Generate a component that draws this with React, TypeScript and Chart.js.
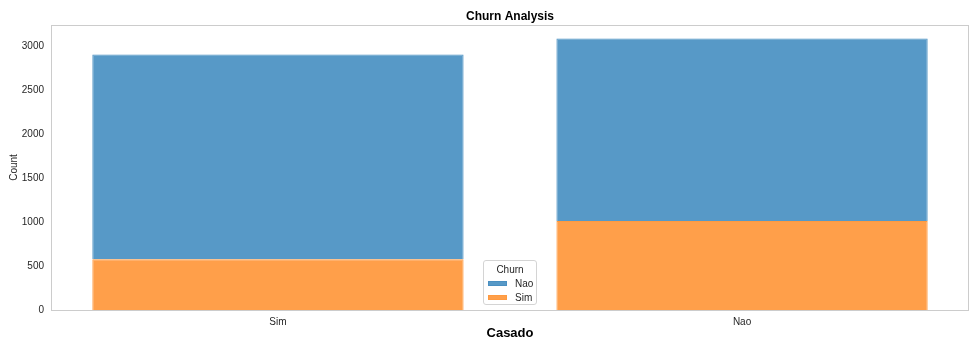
import React, { useEffect, useRef } from 'react';
import { Chart, registerables } from 'chart.js';

Chart.register(...registerables);

const categories = ['Sim', 'Nao'];
const churnSim = [578, 1012];
const churnNao = [2327, 2073];
const yTicks = [0, 500, 1000, 1500, 2000, 2500, 3000];
const legendTitle = 'Churn';
const legendLabels = ['Nao', 'Sim'];

const FONT = '"Liberation Sans", Arial, Helvetica, sans-serif';
const TEXT = '#262626';
const BLUE = '#5799c7';
const BLUE_EDGE = '#4a8fc1';
const ORANGE = '#ff9f4a';
const ORANGE_EDGE = '#ff9a40';

const framePlugin = {
  id: 'frame',
  beforeDatasetsDraw(chart: any) {
    const { ctx, chartArea } = chart;
    ctx.save();
    ctx.strokeStyle = '#cccccc';
    ctx.lineWidth = 1;
    ctx.strokeRect(
      Math.round(chartArea.left) + 0.5,
      Math.round(chartArea.top) + 0.5,
      Math.round(chartArea.right - chartArea.left) - 1,
      Math.round(chartArea.bottom - chartArea.top)
    );
    ctx.restore();
  },
};

export default function App() {
  const canvasRef = useRef<HTMLCanvasElement | null>(null);

  useEffect(() => {
    if (!canvasRef.current) return;
    const chart = new Chart(canvasRef.current, {
      type: 'bar',
      data: {
        datasets: [
          {
            label: legendLabels[1],
            data: categories.map((_, i) => ({ x: i, y: churnSim[i] })),
            backgroundColor: ORANGE,
            borderColor: ORANGE_EDGE,
            borderWidth: 1,
            categoryPercentage: 1,
            barPercentage: 0.8,
          },
          {
            label: legendLabels[0],
            data: categories.map((_, i) => ({ x: i, y: churnNao[i] })),
            backgroundColor: BLUE,
            borderColor: BLUE_EDGE,
            borderWidth: 1,
            categoryPercentage: 1,
            barPercentage: 0.8,
          },
        ],
      },
      options: {
        responsive: false,
        animation: false,
        layout: { padding: { left: 0, right: 11, top: 0, bottom: 0 } },
        plugins: {
          legend: { display: false },
          tooltip: { enabled: false },
          title: {
            display: true,
            text: 'Churn Analysis',
            fullSize: false,
            color: '#000',
            font: { family: FONT, size: 12, weight: 'bold', lineHeight: 1.2 },
            padding: { top: 9, bottom: 1.6 },
          },
        },
        scales: {
          x: {
            type: 'linear',
            stacked: true,
            min: -0.489,
            max: 1.489,
            offset: false,
            grid: { display: false, drawTicks: false },
            border: { display: false },
            afterBuildTicks: (s: any) => {
              s.ticks = categories.map((_, i) => ({ value: i }));
            },
            afterFit: (s: any) => {
              s.height = 40;
            },
            ticks: {
              autoSkip: false,
              maxRotation: 0,
              padding: 6,
              color: TEXT,
              font: { family: FONT, size: 10 },
              callback: (v: any) => categories[Math.round(Number(v))] ?? '',
            },
            title: {
              display: true,
              text: 'Casado',
              color: '#000',
              font: { family: FONT, size: 13, weight: 'bold', lineHeight: 1.2 },
              padding: { top: 0, bottom: 9 },
            },
          },
          y: {
            stacked: true,
            min: 0,
            max: 3239,
            grid: { display: false, drawTicks: false },
            border: { display: false },
            afterBuildTicks: (s: any) => {
              s.ticks = yTicks.map((v) => ({ value: v }));
            },
            afterFit: (s: any) => {
              s.width = 51;
            },
            ticks: {
              padding: 7,
              color: TEXT,
              font: { family: FONT, size: 10 },
              callback: (v: any) => String(v),
            },
            title: {
              display: true,
              text: 'Count',
              color: TEXT,
              font: { family: FONT, size: 10, lineHeight: 1.2 },
              padding: { top: 8, bottom: 0 },
            },
          },
        },
      } as any,
      plugins: [framePlugin],
    });
    return () => chart.destroy();
  }, []);

  const swatch = (color: string, edge: string): React.CSSProperties => ({
    display: 'inline-block',
    width: 19,
    height: 5,
    background: color,
    border: `1px solid ${edge}`,
    boxSizing: 'border-box',
    marginRight: 8,
    verticalAlign: 'middle',
  });

  return (
    <div style={{ position: 'fixed', left: 0, top: 0, width: 980, height: 350, background: '#fff' }}>
      <canvas ref={canvasRef} width={980} height={350} />
      <div
        style={{
          position: 'absolute',
          left: 483,
          top: 260,
          width: 54,
          height: 45,
          boxSizing: 'border-box',
          border: '1px solid #d4d4d4',
          borderRadius: 3,
          background: 'rgba(255,255,255,0.85)',
          fontFamily: FONT,
          fontSize: 10,
          color: TEXT,
          lineHeight: '13px',
        }}
      >
        <div style={{ textAlign: 'center', marginTop: 2 }}>{legendTitle}</div>
        <div style={{ paddingLeft: 4, whiteSpace: 'nowrap' }}>
          <span style={swatch(BLUE, BLUE_EDGE)} />
          <span style={{ verticalAlign: 'middle' }}>{legendLabels[0]}</span>
        </div>
        <div style={{ paddingLeft: 4, whiteSpace: 'nowrap' }}>
          <span style={swatch(ORANGE, ORANGE_EDGE)} />
          <span style={{ verticalAlign: 'middle' }}>{legendLabels[1]}</span>
        </div>
      </div>
    </div>
  );
}
